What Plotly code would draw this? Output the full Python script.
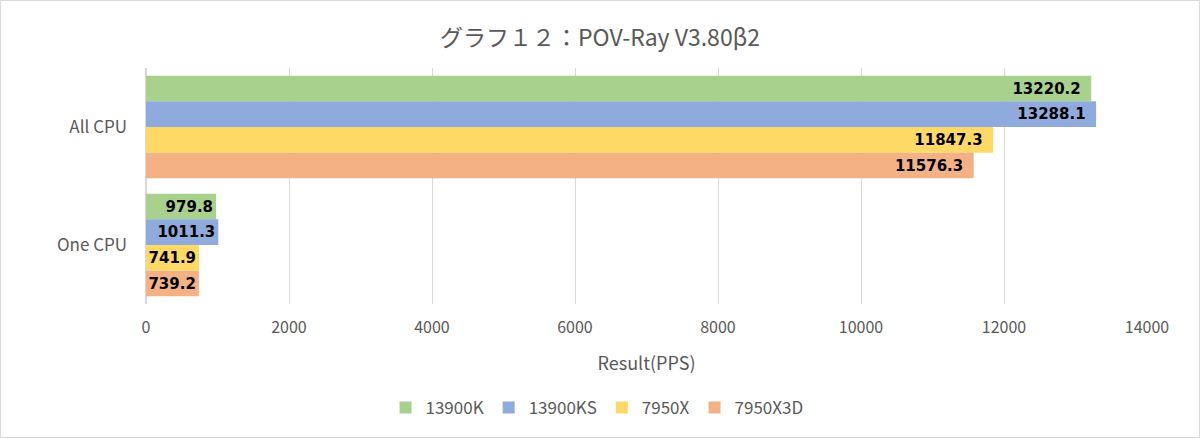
import plotly.graph_objects as go

categories = ["All CPU", "One CPU"]
series_names = ["13900K", "13900KS", "7950X", "7950X3D"]
v_13900K = [13220.2, 979.8]
v_13900KS = [13288.1, 1011.3]
v_7950X = [11847.3, 741.9]
v_7950X3D = [11576.3, 739.2]
x_ticks = [0, 2000, 4000, 6000, 8000, 10000, 12000, 14000]
x_tick_labels = ["0", "2000", "4000", "6000", "8000", "10000", "12000", "14000"]

colors = ["#A9D18E", "#8FAADC", "#FFD966", "#F4B183"]
values = [v_13900K, v_13900KS, v_7950X, v_7950X3D]
label_pad = ["\u2002", ""]  # right padding of the labels per category

fig = go.Figure()
for name, vals, c in zip(series_names, values, colors):
    fig.add_trace(go.Bar(
        y=categories, x=vals, name=name, orientation="h",
        marker=dict(color=c, line=dict(width=0)),
        text=[f"{v:.1f}{p}" for v, p in zip(vals, label_pad)],
        textposition="inside", insidetextanchor="end",
        constraintext="none", cliponaxis=False,
        textfont=dict(family="Verdana, DejaVu Sans, sans-serif", size=15, color="black", weight="bold"),
        textangle=0,
    ))

fig.update_layout(
    width=1200, height=438,
    barmode="group", bargap=0.13, bargroupgap=0,
    paper_bgcolor="white", plot_bgcolor="white",
    margin=dict(l=146, r=53, t=68, b=134, autoexpand=False),
    title=dict(text="グラフ１２：POV-Ray V3.80β2", x=0.5, xanchor="center", y=0.913, yanchor="middle",
               font=dict(family="Noto Sans CJK JP", size=23, color="#595959")),
    xaxis=dict(range=[0, 14000], tickvals=x_ticks, ticktext=x_tick_labels, showgrid=True,
               gridcolor="#D9D9D9", gridwidth=1, automargin=False,
               zeroline=True, zerolinecolor="#D9D9D9", showline=False,
               tickfont=dict(family="Noto Sans CJK JP", size=16, color="#595959"),
               title=dict(text="Result(PPS)", font=dict(family="Noto Sans CJK JP", size=18, color="#595959"), standoff=20),
               ticks="", ticklabelstandoff=12),
    yaxis=dict(autorange="reversed", showgrid=False, showline=False, ticks="", automargin=False,
               tickfont=dict(family="Noto Sans CJK JP", size=17, color="#595959"), ticklabelstandoff=18),
    legend=dict(orientation="h", x=(597 - 146) / 1001, xanchor="center", y=-0.44, yanchor="middle",
                font=dict(family="Noto Sans CJK JP", size=17, color="#595959"), traceorder="normal",
                itemwidth=30),
    showlegend=True,
)
fig.add_shape(type="rect", xref="paper", yref="paper", x0=-145.5/1001, x1=1+52.5/1001, y0=-133.5/236, y1=1+67.5/236,
              line=dict(color="#D9D9D9", width=1))

fig.write_html("out.html", config={"displayModeBar": False},
               post_script="document.body.style.margin='0';")
